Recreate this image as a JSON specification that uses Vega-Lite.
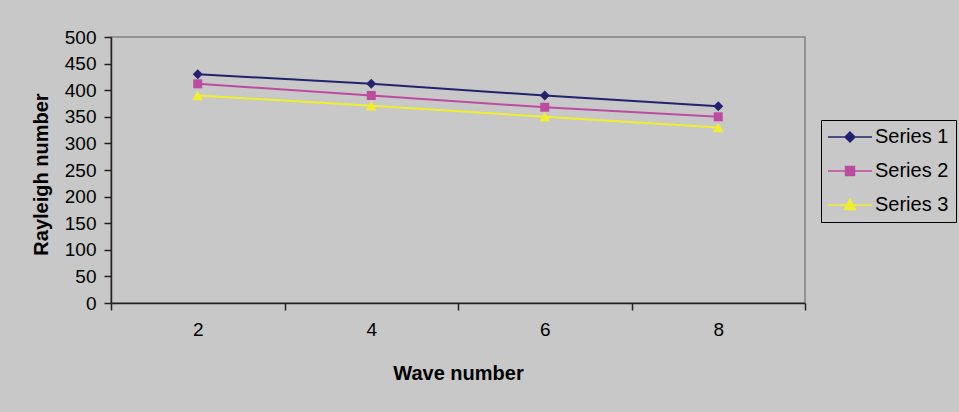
{
  "$schema": "https://vega.github.io/schema/vega-lite/v6.json",
  "autosize": {"type": "none"},
  "width": 694,
  "height": 266,
  "padding": {"left": 111, "top": 37, "right": 154, "bottom": 109},
  "background": "#C8C8C8",
  "config": {
    "view": {"stroke": "#808080", "strokeWidth": 1.5, "fill": "#C8C8C8"},
    "font": "Liberation Sans"
  },
  "data": {
    "values": [
      {"wave": 2, "rayleigh": 430, "series": "Series 1"},
      {"wave": 4, "rayleigh": 412, "series": "Series 1"},
      {"wave": 6, "rayleigh": 390, "series": "Series 1"},
      {"wave": 8, "rayleigh": 370, "series": "Series 1"},
      {"wave": 2, "rayleigh": 412, "series": "Series 2"},
      {"wave": 4, "rayleigh": 390, "series": "Series 2"},
      {"wave": 6, "rayleigh": 368, "series": "Series 2"},
      {"wave": 8, "rayleigh": 350, "series": "Series 2"},
      {"wave": 2, "rayleigh": 390, "series": "Series 3"},
      {"wave": 4, "rayleigh": 371, "series": "Series 3"},
      {"wave": 6, "rayleigh": 350, "series": "Series 3"},
      {"wave": 8, "rayleigh": 330, "series": "Series 3"}
    ]
  },
  "encoding": {
    "x": {
      "field": "wave", "type": "quantitative",
      "scale": {"domain": [1, 9], "nice": false, "zero": false},
      "axis": {
        "title": "Wave number",
        "titleFontSize": 20, "titleFontWeight": "bold", "titleColor": "#000000",
        "titleBaseline": "alphabetic", "titleY": 76,
        "values": [1, 2, 3, 4, 5, 6, 7, 8, 9],
        "labelExpr": "datum.value % 2 == 0 ? datum.label : ''",
        "labelFontSize": 19, "labelColor": "#000000", "labelPadding": 10,
        "labelFlush": false, "labelOverlap": false,
        "tickOpacity": {"condition": {"test": "datum.value % 2 == 1", "value": 1}, "value": 0},
        "tickSize": 7, "tickColor": "#222222", "tickWidth": 1.5,
        "domainColor": "#222222", "domainWidth": 1.5,
        "grid": false
      }
    },
    "y": {
      "field": "rayleigh", "type": "quantitative",
      "scale": {"domain": [0, 500], "nice": false},
      "axis": {
        "title": "Rayleigh number",
        "titleFontSize": 20, "titleFontWeight": "bold", "titleColor": "#000000",
        "titleBaseline": "alphabetic", "titleAngle": -90, "titleX": -64, "titleY": 137,
        "titleAlign": "center",
        "values": [0, 50, 100, 150, 200, 250, 300, 350, 400, 450, 500],
        "labelFontSize": 19, "labelColor": "#000000", "labelPadding": 8,
        "labelFlush": false,
        "tickSize": 7, "tickColor": "#222222", "tickWidth": 1.5,
        "domainColor": "#222222", "domainWidth": 1.5,
        "grid": false
      }
    },
    "color": {
      "field": "series", "type": "nominal",
      "scale": {"domain": ["Series 1", "Series 2", "Series 3"], "range": ["#22226E", "#BB4C9F", "#F0EE30"]},
      "legend": {
        "title": null,
        "orient": "none", "legendX": 710, "legendY": 83,
        "padding": 7,
        "fillColor": "#C8C8C8", "strokeColor": "#000000",
        "labelFontSize": 20, "labelColor": "#000000",
        "labelOffset": 15, "symbolOffset": 12,
        "rowPadding": 14,
        "symbolSize": 100, "symbolStrokeWidth": 1.5, "symbolOpacity": 1,
        "encode": {
          "symbols": {
            "update": {
              "shape": {"signal": "datum.value == 'Series 1' ? 'M-4.4,0H4.4M-1,0L0,-1L1,0L0,1Z' : datum.value == 'Series 2' ? 'M-4.4,0H4.4M-0.9,-0.9H0.9V0.9H-0.9Z' : 'M-4.4,0H4.4M0,-1.2L1.1,0.9H-1.1Z'"},
              "fill": {"signal": "scale('color', datum.value)"},
              "stroke": {"signal": "scale('color', datum.value)"},
              "strokeWidth": {"value": 1.5},
              "opacity": {"value": 1}
            }
          }
        }
      }
    }
  },
  "layer": [
    {
      "mark": {"type": "line", "strokeWidth": 2},
      "encoding": {}
    },
    {
      "transform": [{"filter": "datum.series == 'Series 1'"}],
      "mark": {"type": "point", "filled": true, "opacity": 1, "shape": "diamond", "size": 100},
      "encoding": {}
    },
    {
      "transform": [{"filter": "datum.series == 'Series 2'"}],
      "mark": {"type": "point", "filled": true, "opacity": 1, "shape": "square", "size": 81},
      "encoding": {}
    },
    {
      "transform": [{"filter": "datum.series == 'Series 3'"}],
      "mark": {"type": "point", "filled": true, "opacity": 1, "shape": "triangle-up", "size": 121},
      "encoding": {}
    }
  ]
}
